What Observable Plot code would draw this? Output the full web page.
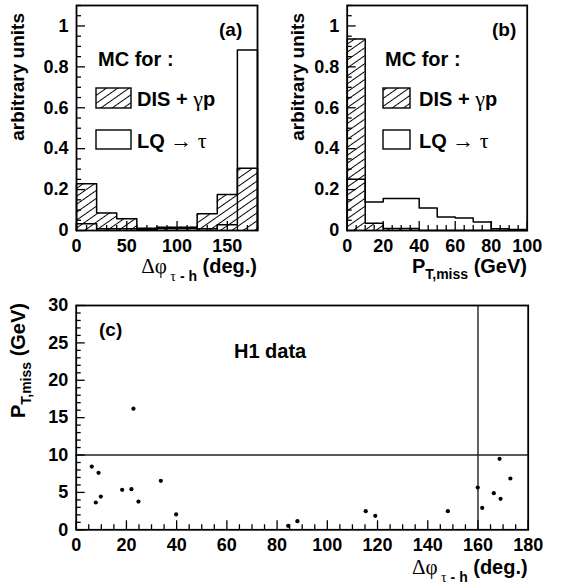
<!DOCTYPE html>
<html><head><meta charset="utf-8">
<script src="https://cdn.jsdelivr.net/npm/d3@7"></script>
<script src="https://cdn.jsdelivr.net/npm/@observablehq/plot@0.6"></script>
<style>
html,body{margin:0;padding:0;background:#fff;}
#chart{position:relative;width:562px;height:587px;overflow:hidden;background:#fff;}
#chart svg.panel{position:absolute;}
</style></head><body>
<svg width="0" height="0" style="position:absolute">
<defs><pattern id="hatch" patternUnits="userSpaceOnUse" width="6.5" height="6.5" patternTransform="rotate(-35)"><line x1="-1" y1="3.25" x2="7.5" y2="3.25" stroke="#000" stroke-width="1"/></pattern></defs></svg>
<div id="chart"></div>
<script>
// ---------- data ----------
const dphiEdges = [0, 20, 40, 60, 80, 100, 120, 140, 160, 180];
const disDphi   = [0.228, 0.085, 0.058, 0.011, 0.016, 0.016, 0.082, 0.176, 0.304];
const lqDphi    = [0.033, 0.008, 0.008, 0.005, 0.010, 0.010, 0.008, 0.028, 0.883];

const ptEdges = [0, 10, 20, 30, 40, 50, 60, 70, 80, 90, 100];
const disPt   = [0.936, 0.036, 0.010, 0.010, 0, 0, 0, 0, 0, 0];
const lqPt    = [0.250, 0.139, 0.156, 0.156, 0.110, 0.066, 0.061, 0.041, 0.008, 0.005];

const dataDphi = [6.2, 8.9, 7.8, 9.8, 18.3, 22.0, 24.8, 22.8, 33.7, 39.8, 84.4, 88.1, 115.3, 119.1, 148.0, 159.9, 161.7, 166.3, 169.0, 168.6, 172.9];
const dataPt   = [8.46, 7.62, 3.65, 4.45, 5.35, 5.43, 3.78, 16.2, 6.55, 2.05, 0.53, 1.15, 2.49, 1.87, 2.49, 5.66, 2.94, 4.9, 4.14, 9.49, 6.86];

const ptCut = 10;
const dphiCut = 160;

const ticksA_X = [0, 50, 100, 150];
const ticksB_X = [0, 20, 40, 60, 80, 100];
const ticksAB_Y = [0, 0.2, 0.4, 0.6, 0.8, 1];
const ticksC_X = [0, 20, 40, 60, 80, 100, 120, 140, 160, 180];
const ticksC_Y = [0, 5, 10, 15, 20, 25, 30];

// ---------- helpers ----------
const SANS = "'Liberation Sans', Arial, Helvetica, sans-serif";
const SERIF = "'Liberation Serif', 'DejaVu Serif', serif";
const style = {fontFamily: SANS, fontSize: "18px", fontWeight: "bold", background: "transparent", overflow: "visible", color: "#000"};

function bins(edges, vals) { return vals.map((v, i) => ({x1: edges[i], x2: edges[i + 1], v})); }
function steps(edges, vals) {
  const pts = [{x: edges[0], y: 0}];
  vals.forEach((v, i) => { pts.push({x: edges[i], y: v}, {x: edges[i + 1], y: v}); });
  pts.push({x: edges[edges.length - 1], y: 0});
  return pts;
}
function minor(lo, hi, step, majors) {
  const out = [];
  for (let k = 0; lo + k * step <= hi + 1e-9; k++) {
    const t = +(lo + k * step).toFixed(6);
    if (!majors.some(m => Math.abs(m - t) < 1e-9)) out.push(t);
  }
  return out;
}
// inward ticks: lengths given in pixels, converted to data units of the frame
function tickMarks({xMaj, xMin, yMaj, yMin, xdom, ydom, fw, fh}) {
  const s = {stroke: "#000", strokeWidth: 1.3};
  const ly = px => px * (ydom[1] - ydom[0]) / fh;
  const lx = px => px * (xdom[1] - xdom[0]) / fw;
  const y0 = ydom[0], x0 = xdom[0];
  return [
    Plot.ruleX(xMaj, {x: d => d, y1: d => y0, y2: d => y0 + ly(9), ...s}),
    Plot.ruleX(xMin, {x: d => d, y1: d => y0, y2: d => y0 + ly(5), ...s}),
    Plot.ruleY(yMaj, {y: d => d, x1: d => x0, x2: d => x0 + lx(9), ...s}),
    Plot.ruleY(yMin, {y: d => d, x1: d => x0, x2: d => x0 + lx(5), ...s})
  ];
}
function fmt(d) { return String(+d.toFixed(3)); }

function addText(svg, x, y, parts, {anchor = "start", rotate = false, size = 20} = {}) {
  const t = d3.select(svg).append("text")
    .attr("text-anchor", anchor)
    .attr("font-family", SANS).attr("font-weight", "bold").attr("font-size", size)
    .attr("fill", "#000");
  if (rotate) t.attr("transform", `translate(${x},${y}) rotate(-90)`);
  else t.attr("x", x).attr("y", y);
  for (const p of parts) {
    const s = t.append("tspan").text(p.t);
    if (p.serif) s.attr("font-family", SERIF).attr("font-weight", "normal");
    if (p.size) s.attr("font-size", p.size);
    if (p.dy) s.attr("dy", p.dy);
    if (p.dx) s.attr("dx", p.dx);
  }
  return t;
}
function addLegend(svg, bx, tx, bw) {
  addText(svg, bx + 2, 66, [{t: "MC for :"}]);
  const g = d3.select(svg);
  g.append("rect").attr("x", bx).attr("y", 88).attr("width", bw).attr("height", 20)
    .attr("fill", "url(#hatch)").attr("stroke", "#000").attr("stroke-width", 1.4);
  g.append("rect").attr("x", bx).attr("y", 130).attr("width", bw).attr("height", 19)
    .attr("fill", "none").attr("stroke", "#000").attr("stroke-width", 1.4);
  addText(svg, tx, 106, [{t: "DIS + "}, {t: "γ", serif: true, size: 22}, {t: "p"}]);
  addText(svg, tx, 148, [{t: "LQ "}, {t: "→ τ", serif: true, size: 22}]);
}

function histPanel({edges, dis, lq, xdom, xMaj, xMinStep, width, ml, mr}) {
  const height = 290, mt = 5, mb = 60, ydom = [0, 1.1];
  const svg = Plot.plot({
    width, height,
    marginLeft: ml, marginRight: mr, marginTop: mt, marginBottom: mb,
    x: {domain: xdom}, y: {domain: ydom},
    style,
    marks: [
      Plot.rect(bins(edges, dis), {x1: "x1", x2: "x2", y1: d => 0, y2: "v", fill: "url(#hatch)"}),
      Plot.line(steps(edges, dis), {x: "x", y: "y", stroke: "#000", strokeWidth: 1.5}),
      Plot.line(steps(edges, lq), {x: "x", y: "y", stroke: "#000", strokeWidth: 1.5}),
      ...tickMarks({xMaj, xMin: minor(xdom[0], xdom[1], xMinStep, xMaj), yMaj: ticksAB_Y, yMin: minor(0, 1.1, 0.05, ticksAB_Y),
                    xdom, ydom, fw: width - ml - mr, fh: height - mt - mb}),
      Plot.axisX({ticks: xMaj, tickSize: 0, tickPadding: 9, label: null, tickFormat: fmt}),
      Plot.axisY({ticks: ticksAB_Y, tickSize: 0, tickPadding: 8, label: null, tickFormat: fmt}),
      Plot.frame({stroke: "#000", strokeWidth: 1.8})
    ]
  });
  svg.classList.add("panel");
  return svg;
}

const chart = document.getElementById("chart");

// ---------- panel (a) ----------
const a = histPanel({edges: dphiEdges, dis: disDphi, lq: lqDphi, xdom: [0, 180], xMaj: ticksA_X, xMinStep: 10, width: 280, ml: 76, mr: 23});
a.style.left = "0px"; a.style.top = "0px";
chart.appendChild(a);
addText(a, 24, 13, [{t: "arbitrary units"}], {anchor: "end", rotate: true, size: 19});
addText(a, 257, 273, [{t: "Δφ", serif: true, size: 21}, {t: " τ", serif: true, size: 14, dy: 8}, {t: " - h", size: 14}, {t: " (deg.)", dy: -8}], {anchor: "end", size: 20});
addText(a, 219, 36, [{t: "(a)"}], {size: 19});
addLegend(a, 96, 137, 35);

// ---------- panel (b) ----------
const b = histPanel({edges: ptEdges, dis: disPt, lq: lqPt, xdom: [0, 100], xMaj: ticksB_X, xMinStep: 5, width: 282, ml: 66.7, mr: 35.3});
b.style.left = "280px"; b.style.top = "0px";
chart.appendChild(b);
addText(b, 24, 13, [{t: "arbitrary units"}], {anchor: "end", rotate: true, size: 19});
addText(b, 247, 273, [{t: "P"}, {t: "T,miss", size: 14, dy: 6}, {t: " (GeV)", dy: -6}], {anchor: "end", size: 20});
addText(b, 212, 36, [{t: "(b)"}], {size: 19});
addLegend(b, 103, 139, 27);

// ---------- panel (c) ----------
const points = dataDphi.map((d, i) => ({dphi: d, pt: dataPt[i]}));
const cW = 562, cH = 297, cML = 75.7, cMR = 34.3, cMT = 15, cMB = 57.7;
const c = Plot.plot({
  width: cW, height: cH,
  marginLeft: cML, marginRight: cMR, marginTop: cMT, marginBottom: cMB,
  x: {domain: [0, 180]}, y: {domain: [0, 30]},
  style,
  marks: [
    Plot.ruleY([ptCut], {stroke: "#222", strokeWidth: 1.4}),
    Plot.ruleX([dphiCut], {stroke: "#222", strokeWidth: 1.4}),
    Plot.dot(points, {x: "dphi", y: "pt", r: 2.1, fill: "#000", stroke: "none"}),
    ...tickMarks({xMaj: ticksC_X, xMin: minor(0, 180, 5, ticksC_X), yMaj: ticksC_Y, yMin: minor(0, 30, 1, ticksC_Y),
                  xdom: [0, 180], ydom: [0, 30], fw: cW - cML - cMR, fh: cH - cMT - cMB}),
    Plot.axisX({ticks: ticksC_X, tickSize: 0, tickPadding: 8, label: null, tickFormat: fmt}),
    Plot.axisY({ticks: ticksC_Y, tickSize: 0, tickPadding: 8, label: null, tickFormat: fmt}),
    Plot.frame({stroke: "#000", strokeWidth: 1.8})
  ]
});
c.classList.add("panel");
c.style.left = "0px"; c.style.top = "290px";
chart.appendChild(c);
addText(c, 25, 13, [{t: "P"}, {t: "T,miss", size: 14, dy: 6}, {t: " (GeV)", dy: -6}], {anchor: "end", rotate: true, size: 20});
addText(c, 527.7, 284, [{t: "Δφ", serif: true, size: 21}, {t: " τ", serif: true, size: 14, dy: 8}, {t: " - h", size: 14}, {t: " (deg.)", dy: -8}], {anchor: "end", size: 20});
addText(c, 99, 46, [{t: "(c)"}], {size: 19});
addText(c, 234, 68, [{t: "H1 data"}], {size: 20});
</script>
</body></html>
